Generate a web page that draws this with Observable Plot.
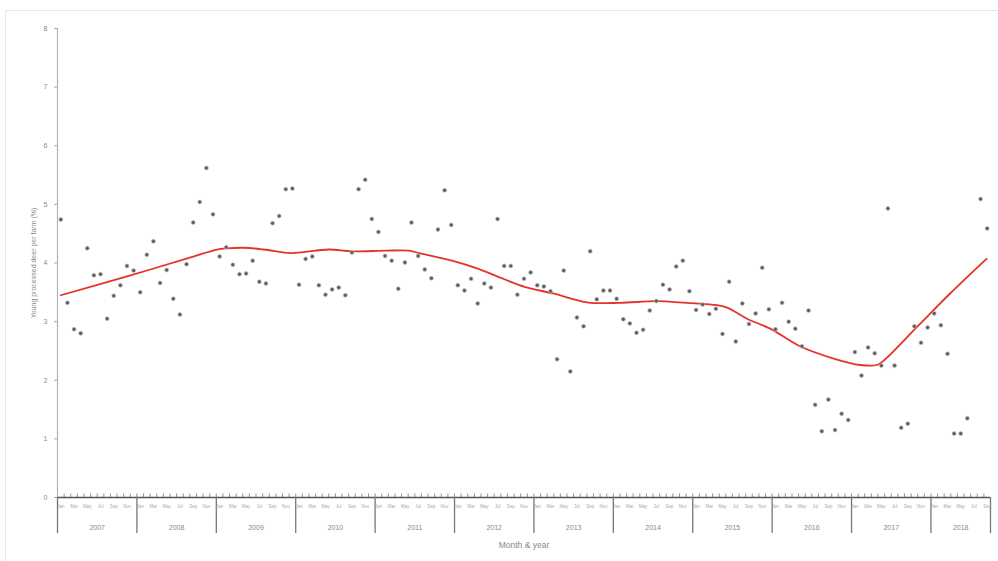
<!DOCTYPE html>
<html><head><meta charset="utf-8">
<script src="https://cdn.jsdelivr.net/npm/d3@7"></script>
<script src="https://cdn.jsdelivr.net/npm/@observablehq/plot@0.6"></script>
<style>
html,body{margin:0;padding:0;background:#fff;}
#wrap{position:relative;width:998px;height:561px;overflow:hidden;background:#fff;}
#frame{position:absolute;left:5px;top:10px;width:1000px;height:560px;border-left:1px solid #e6e6e6;border-top:1px solid #e6e6e6;}
#chart{position:absolute;left:0;top:0;}
</style></head><body>
<div id="wrap"><div id="frame"></div><div id="chart"></div></div>
<script>
// Years shown on the axis (monthly data, Jan 2007 – Sep 2018)
const years = ["2007","2008","2009","2010","2011","2012","2013","2014","2015","2016","2017","2018"];
const monthsInYear = [12,12,12,12,12,12,12,12,12,12,12,9];
const monthLabels = ["Jan","","Mar","","May","","Jul","","Sep","","Nov",""];
const yTicks = [0,1,2,3,4,5,6,7,8];
const yLabel = "Young processed deer per farm (%)";
const xLabel = "Month & year";

// Monthly values (%), index 0 = Jan 2007; null = no point shown
const deerPct = [
  4.74,3.32,2.87,2.80,4.25,3.79,3.81,3.05,3.44,3.62,3.95,3.87,
  3.50,4.14,4.37,3.66,3.88,3.39,3.12,3.98,4.69,5.04,5.62,4.83,
  4.11,4.27,3.97,3.81,3.82,4.04,3.68,3.65,4.68,4.80,5.26,5.27,
  3.63,4.07,4.11,3.62,3.46,3.55,3.58,3.45,4.18,5.26,5.42,4.75,
  4.53,4.12,4.04,3.56,4.01,4.69,4.12,3.89,3.74,4.57,5.24,4.65,
  3.62,3.53,3.73,3.31,3.65,3.58,4.75,3.95,3.95,3.46,3.73,3.84,
  3.62,3.60,3.52,2.36,3.87,2.15,3.07,2.92,4.20,3.38,3.53,3.53,
  3.39,3.04,2.97,2.81,2.86,3.19,3.35,3.63,3.55,3.94,4.04,3.52,
  3.20,3.29,3.13,3.22,2.79,3.68,2.66,3.31,2.96,3.14,3.92,3.21,
  2.87,3.32,3.00,2.88,2.58,3.19,1.58,1.13,1.67,1.15,1.43,1.32,
  2.48,2.08,2.56,2.46,2.25,4.93,2.25,1.19,1.26,2.92,2.64,2.90,
  3.14,2.94,2.45,1.09,1.09,1.35,null,5.09,4.59
];

// Smoothed trend line (month position, value)
const trendMonth = [0.5,10.5,20.5,24.1,25.6,28.1,31.2,35.2,37.5,41.0,44.5,49.6,53.1,54.6,59.6,63.6,66.7,70.7,74.9,80.0,85.0,90.5,95.1,99.7,101.2,104.2,107.7,112.2,117.3,121.3,123.8,124.8,129.9,134.9,140.4];
const trendValue = [3.45,3.77,4.11,4.23,4.25,4.26,4.23,4.17,4.19,4.23,4.20,4.21,4.21,4.17,4.04,3.90,3.76,3.59,3.48,3.33,3.32,3.35,3.32,3.28,3.24,3.05,2.88,2.58,2.37,2.26,2.26,2.33,2.91,3.48,4.07];

// Derived tables
const points = deerPct.map((v, i) => ({m: i + 0.5, v})).filter(d => d.v != null);
const trend = trendMonth.map((m, i) => ({m, v: trendValue[i]}));
const totalMonths = d3.sum(monthsInYear);
const yearStarts = d3.cumsum([0, ...monthsInYear]).slice(0, years.length + 1);
const yearEdges = Array.from(yearStarts);
const yearCenters = years.map((y, i) => ({pos: (yearStarts[i] + yearStarts[i + 1]) / 2, label: y}));
const monthTicks = d3.range(1, totalMonths);
const monthLabelPos = [];
years.forEach((y, yi) => {
  for (let k = 0; k < monthsInYear[yi]; k++) {
    if (monthLabels[k]) monthLabelPos.push({pos: yearStarts[yi] + k + 0.5, label: monthLabels[k]});
  }
});

const font = "Liberation Sans, Arial, sans-serif";

const chart = Plot.plot({
  width: 998,
  height: 561,
  marginLeft: 57,
  marginRight: 8,
  marginTop: 28,
  marginBottom: 64,
  style: {fontFamily: font, background: "transparent"},
  x: {domain: [0, totalMonths]},
  y: {domain: [0, 8]},
  marks: [
    Plot.ruleX([0], {stroke: "#b5b5b5", strokeWidth: 1.2}),
    Plot.axisY({ticks: yTicks, tickSize: 3, tickPadding: 7, fontSize: 7, color: "#8a8a8a", stroke: "#aaa",
      label: yLabel, labelAnchor: "center", labelOffset: 26, labelArrow: "none"}),
    Plot.ruleX(monthTicks, {x: d => d, y1: 0, y2: 0.06, stroke: "#777", strokeWidth: 0.8}),
    Plot.ruleY([0], {stroke: "#555", strokeWidth: 1.5}),
    Plot.axisX({ticks: yearEdges, tickSize: 36, tickFormat: () => "", stroke: "#777", strokeWidth: 1.3, label: null}),
    Plot.text(monthLabelPos, {x: "pos", y: 0, text: "label", dy: 9, fontSize: 4.5, fill: "#aaa"}),
    Plot.text(yearCenters, {x: "pos", y: 0, text: "label", dy: 30, fontSize: 7, fill: "#888"}),
    Plot.axisX({ticks: [], label: xLabel, labelAnchor: "center", labelOffset: 50, fontSize: 8.5, color: "#888", labelArrow: "none"}),
    Plot.line(trend, {x: "m", y: "v", stroke: "#e3342c", strokeWidth: 1.8, curve: "catmull-rom"}),
    Plot.dot(points, {x: "m", y: "v", r: 2, fill: "#5c5c5c", stroke: "#c4c4c4", strokeWidth: 0.7})
  ]
});
document.getElementById("chart").appendChild(chart);
</script>
</body></html>
